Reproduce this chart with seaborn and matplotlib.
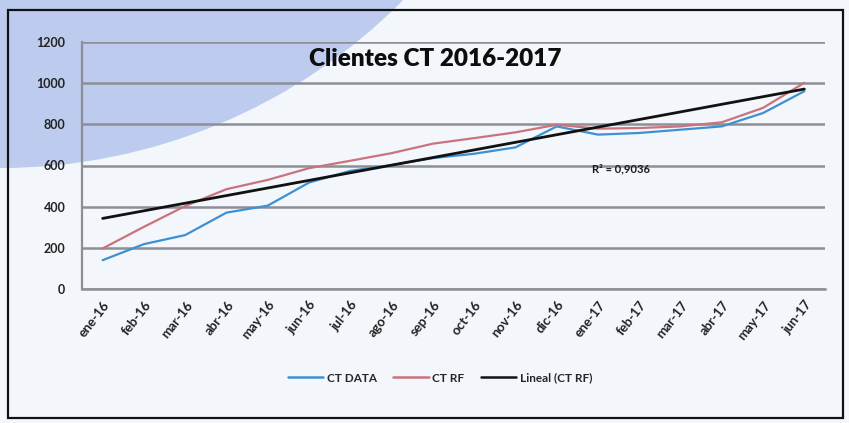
import matplotlib
matplotlib.use('Agg')
import matplotlib.pyplot as plt
from matplotlib.patches import Ellipse, Rectangle
from matplotlib.lines import Line2D
import numpy as np
import pandas as pd
import seaborn as sns

sns.set_style('white')
plt.rcParams['font.family'] = ['Lato', 'DejaVu Sans']

# datos
meses = ['ene-16', 'feb-16', 'mar-16', 'abr-16', 'may-16', 'jun-16', 'jul-16', 'ago-16', 'sep-16',
         'oct-16', 'nov-16', 'dic-16', 'ene-17', 'feb-17', 'mar-17', 'abr-17', 'may-17', 'jun-17']
ct_data = [140, 218, 262, 371, 405, 517, 574, 602, 636, 657, 688, 790, 750, 758, 774, 790, 855, 961]
ct_rf = [197, 302, 403, 485, 530, 587, 623, 660, 706, 733, 761, 798, 779, 782, 790, 810, 880, 1002]
y_ticks = [0, 200, 400, 600, 800, 1000, 1200]

df = pd.DataFrame({'idx': np.arange(len(meses)), 'mes': meses,
                   'CT DATA': ct_data, 'CT RF': ct_rf})

c_blue = '#3d91d3'
c_red = '#c9737c'
c_black = '#111111'

fig = plt.figure(figsize=(8.49, 4.23), dpi=100)
fig.patch.set_facecolor('#f3f7fb')

# fondo de la diapositiva: arco azul arriba a la izquierda
W, H = 849, 423
fig.patches.append(Ellipse((0 / W, 1 + 400 / H), 2 * 568 / W, 2 * 568 / H,
                           transform=fig.transFigure, facecolor='#bccbee',
                           edgecolor='none', zorder=-5))
fig.patches.append(Rectangle((8 / W, 1 - 418 / H), 835 / W, 408 / H,
                             transform=fig.transFigure, facecolor='none',
                             edgecolor='#111111', linewidth=1.6, zorder=5))

ax = fig.add_axes([82 / W, 1 - 289 / H, 743 / W, 247 / H])
ax.set_facecolor('none')

sns.lineplot(data=df, x='idx', y='CT DATA', color=c_blue, linewidth=1.6, ax=ax)
sns.lineplot(data=df, x='idx', y='CT RF', color=c_red, linewidth=1.6, ax=ax)
sns.regplot(data=df, x='idx', y='CT RF', scatter=False, ci=None, truncate=True,
            line_kws={'color': c_black, 'linewidth': 2.0}, ax=ax)

ax.set_xlim(-0.5, len(meses) - 0.5)
ax.set_ylim(0, 1200)
ax.set_yticks(y_ticks)
ax.set_yticklabels([str(v) for v in y_ticks], fontsize=9, fontweight='bold', color='#222222')
ax.yaxis.grid(True, color='#8e8e96', linewidth=1.8)
ax.set_axisbelow(True)

ax.set_xticks(np.arange(len(meses)))
ax.set_xticklabels(meses, rotation=52, ha='right', va='top', rotation_mode='anchor',
                   fontsize=9.5, fontweight='bold', color='#222222')
ax.tick_params(axis='x', length=0, pad=7)
ax.tick_params(axis='y', length=0, pad=12)
# marcas entre categorias
ax.set_xticks(np.arange(len(meses) + 1) - 0.5, minor=True)
ax.tick_params(axis='x', which='minor', length=6, width=1.2, color='#6e6e76', direction='out')

for s in ['top', 'right']:
    ax.spines[s].set_visible(False)
ax.spines['left'].set_color('#8e8e96')
ax.spines['left'].set_linewidth(1.6)
ax.spines['bottom'].set_color('#8e8e96')
ax.spines['bottom'].set_linewidth(1.8)
ax.set_xlabel('')
ax.set_ylabel('')

ax.text(8.05, 1118, 'Clientes CT 2016-2017', ha='center', va='center',
        fontsize=17.5, fontweight='heavy', color='#0d0d0d')
ax.text(12.55, 585, 'R² = 0,9036', ha='center', va='center',
        fontsize=8, fontweight='bold', color='#1a1a1a')

handles = [Line2D([], [], color=c_blue, linewidth=1.8),
           Line2D([], [], color=c_red, linewidth=1.8),
           Line2D([], [], color=c_black, linewidth=1.8)]
fig.legend(handles, ['CT DATA', 'CT RF', 'Lineal (CT RF)'], loc='center',
           bbox_to_anchor=(440 / W, 1 - 378 / H), ncol=3, frameon=False,
           prop={'size': 8.5, 'weight': 'bold'}, handlelength=3.0,
           handletextpad=0.3, columnspacing=1.4)

fig.savefig('out.png', dpi=100, facecolor=fig.get_facecolor())
